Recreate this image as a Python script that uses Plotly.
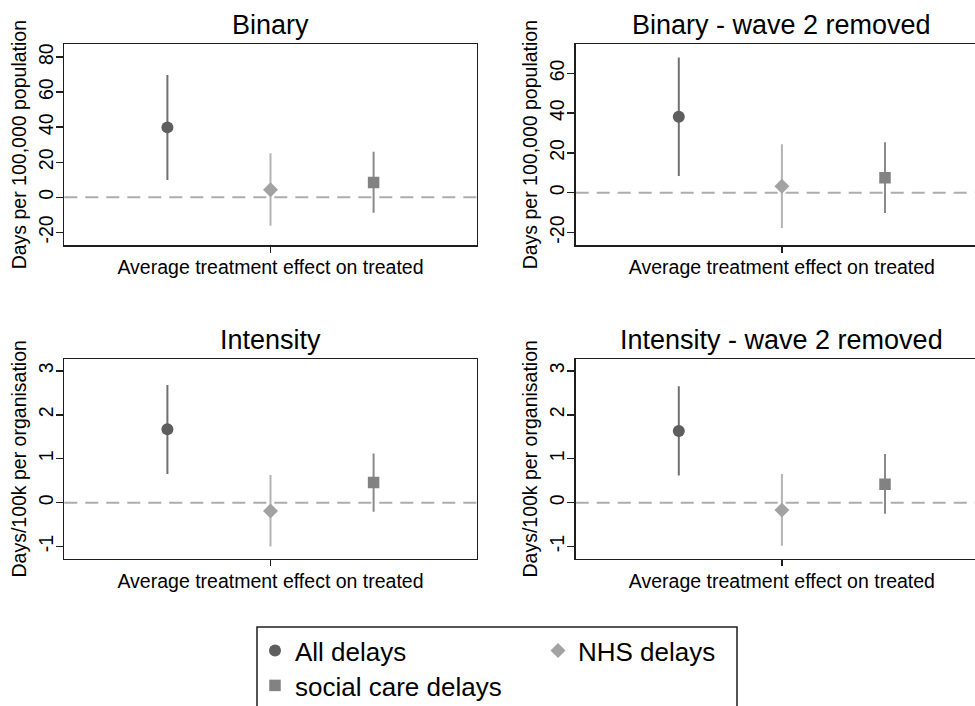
import plotly.graph_objects as go

# ---------------- data ----------------
categories = ["All delays", "NHS delays", "social care delays"]
panel_titles = ["Binary", "Binary - wave 2 removed", "Intensity", "Intensity - wave 2 removed"]
x_label = "Average treatment effect on treated"
y_titles = ["Days per 100,000 population", "Days per 100,000 population",
            "Days/100k per organisation", "Days/100k per organisation"]

binary_est = [39.9, 4.3, 8.5]
binary_lo = [9.9, -16.2, -8.8]
binary_hi = [69.8, 25.1, 26.0]

binary_w2_est = [38.2, 3.2, 7.5]
binary_w2_lo = [8.4, -17.7, -10.2]
binary_w2_hi = [68.0, 24.3, 25.3]

intensity_est = [1.67, -0.19, 0.46]
intensity_lo = [0.65, -1.00, -0.21]
intensity_hi = [2.68, 0.63, 1.12]

intensity_w2_est = [1.63, -0.17, 0.42]
intensity_w2_lo = [0.62, -0.98, -0.25]
intensity_w2_hi = [2.65, 0.65, 1.11]

binary_ticks = [-20, 0, 20, 40, 60, 80]
binary_w2_ticks = [-20, 0, 20, 40, 60]
intensity_ticks = [-1, 0, 1, 2, 3]

# ---------------- styles ----------------
FONT = "Liberation Sans, Arial, sans-serif"
marker_colors = ["#5e5e5e", "#a2a2a2", "#828282"]
ci_colors = ["#707070", "#b4b4b4", "#8a8a8a"]
symbols = ["circle", "diamond", "square"]
sizes = [12, 11.5, 11.5]

W, H = 975, 706
px_per_unit = 412.4 / 4.0
left_dom = [64.3 / W, 476.7 / W]
right_dom = [575.7 / W, 1.0]
top_dom = [(H - 245) / H, (H - 44.3) / H]
bot_dom = [(H - 558.7) / H, (H - 359) / H]

panels = [
    dict(est=binary_est, lo=binary_lo, hi=binary_hi, ticks=binary_ticks, yr=[-27.2, 87.3],
         xd=left_dom, yd=top_dom, right=False),
    dict(est=binary_w2_est, lo=binary_w2_lo, hi=binary_w2_hi, ticks=binary_w2_ticks, yr=[-26.3, 74.6],
         xd=right_dom, yd=top_dom, right=True),
    dict(est=intensity_est, lo=intensity_lo, hi=intensity_hi, ticks=intensity_ticks, yr=[-1.276, 3.27],
         xd=left_dom, yd=bot_dom, right=False),
    dict(est=intensity_w2_est, lo=intensity_w2_lo, hi=intensity_w2_hi, ticks=intensity_ticks, yr=[-1.276, 3.27],
         xd=right_dom, yd=bot_dom, right=True),
]

fig = go.Figure()
layout = dict(
    width=W, height=H,
    margin=dict(l=0, r=0, t=0, b=0, pad=0, autoexpand=False),
    paper_bgcolor="white", plot_bgcolor="white",
    font=dict(family=FONT, color="#000000", size=19.5),
    showlegend=True,
)
annotations = []
shapes = []

for p_i, p in enumerate(panels):
    ax = "" if p_i == 0 else str(p_i + 1)
    xname, yname = "x" + ax, "y" + ax
    for c_i, cat in enumerate(categories):
        est, lo, hi = p["est"][c_i], p["lo"][c_i], p["hi"][c_i]
        fig.add_trace(go.Scatter(
            x=[c_i + 1], y=[est], xaxis=xname, yaxis=yname,
            mode="markers", name=cat,
            legend="legend" if c_i < 2 else "legend2",
            showlegend=(p_i == 0),
            marker=dict(symbol=symbols[c_i], size=sizes[c_i], color=marker_colors[c_i],
                        line=dict(width=0)),
            error_y=dict(type="data", symmetric=False, array=[hi - est], arrayminus=[est - lo],
                         width=0, thickness=2, color=ci_colors[c_i]),
            hoverinfo="skip",
        ))
    xr_max = (p["xd"][1] - p["xd"][0]) * W / px_per_unit
    layout["xaxis" + ax] = dict(
        domain=p["xd"], range=[0, xr_max], anchor=yname,
        showline=True, mirror=True, linecolor="#1e1e1e", linewidth=1.5,
        showgrid=False, zeroline=False,
        tickmode="array", tickvals=[2], ticktext=[x_label],
        ticks="outside", ticklen=6, tickwidth=1.5, tickcolor="#1e1e1e",
        ticklabelstandoff=-2,
        tickfont=dict(size=19.5), automargin=False, fixedrange=True,
    )
    layout["yaxis" + ax] = dict(
        domain=p["yd"], range=p["yr"], anchor=xname,
        showline=True, mirror=(not p["right"]), linecolor="#1e1e1e", linewidth=1.5,
        showgrid=False, zeroline=False,
        tickmode="array", tickvals=p["ticks"], ticktext=[str(t) for t in p["ticks"]],
        ticks="outside", ticklen=7, tickwidth=1.5, tickcolor="#1e1e1e",
        ticklabelstandoff=-5,
        tickangle=-90, tickfont=dict(size=19.5),
        title=dict(text=y_titles[p_i], font=dict(size=19.5), standoff=3),
        automargin=False, fixedrange=True,
    )
    # zero reference line
    shapes.append(dict(type="line", xref=xname + " domain", yref=yname,
                       x0=0, x1=1, y0=0, y1=0, layer="below",
                       line=dict(color="#adadad", width=2, dash="13px,8px")))
    # panel title
    cx = (p["xd"][0] * W + 2 * px_per_unit) / W
    annotations.append(dict(text=panel_titles[p_i], xref="paper", yref="paper",
                            x=cx, y=p["yd"][1] + 19.5 / H, xanchor="center", yanchor="middle",
                            showarrow=False, font=dict(size=27)))

# legend frame (bottom edge falls outside the picture)
shapes.append(dict(type="rect", xref="paper", yref="paper",
                   x0=257 / W, x1=737 / W, y0=-0.2, y1=(H - 627) / H,
                   line=dict(color="#1e1e1e", width=1.5), fillcolor="rgba(0,0,0,0)"))

layout["annotations"] = annotations
layout["shapes"] = shapes
layout["legend"] = dict(orientation="h", xref="paper", yref="paper",
                        x=255 / W, y=(H - 627) / H, xanchor="left", yanchor="top",
                        entrywidth=238, entrywidthmode="pixels",
                        bgcolor="rgba(0,0,0,0)", borderwidth=0,
                        font=dict(size=26), itemclick=False, itemdoubleclick=False)
layout["legend2"] = dict(orientation="h", xref="paper", yref="paper",
                         x=255 / W, y=(H - 662) / H, xanchor="left", yanchor="top",
                         bgcolor="rgba(0,0,0,0)", borderwidth=0,
                         font=dict(size=26), itemclick=False, itemdoubleclick=False)
fig.update_layout(**layout)
fig.write_html("out.html", config={"displayModeBar": False, "staticPlot": True},
               post_script="document.body.style.margin='0';")
